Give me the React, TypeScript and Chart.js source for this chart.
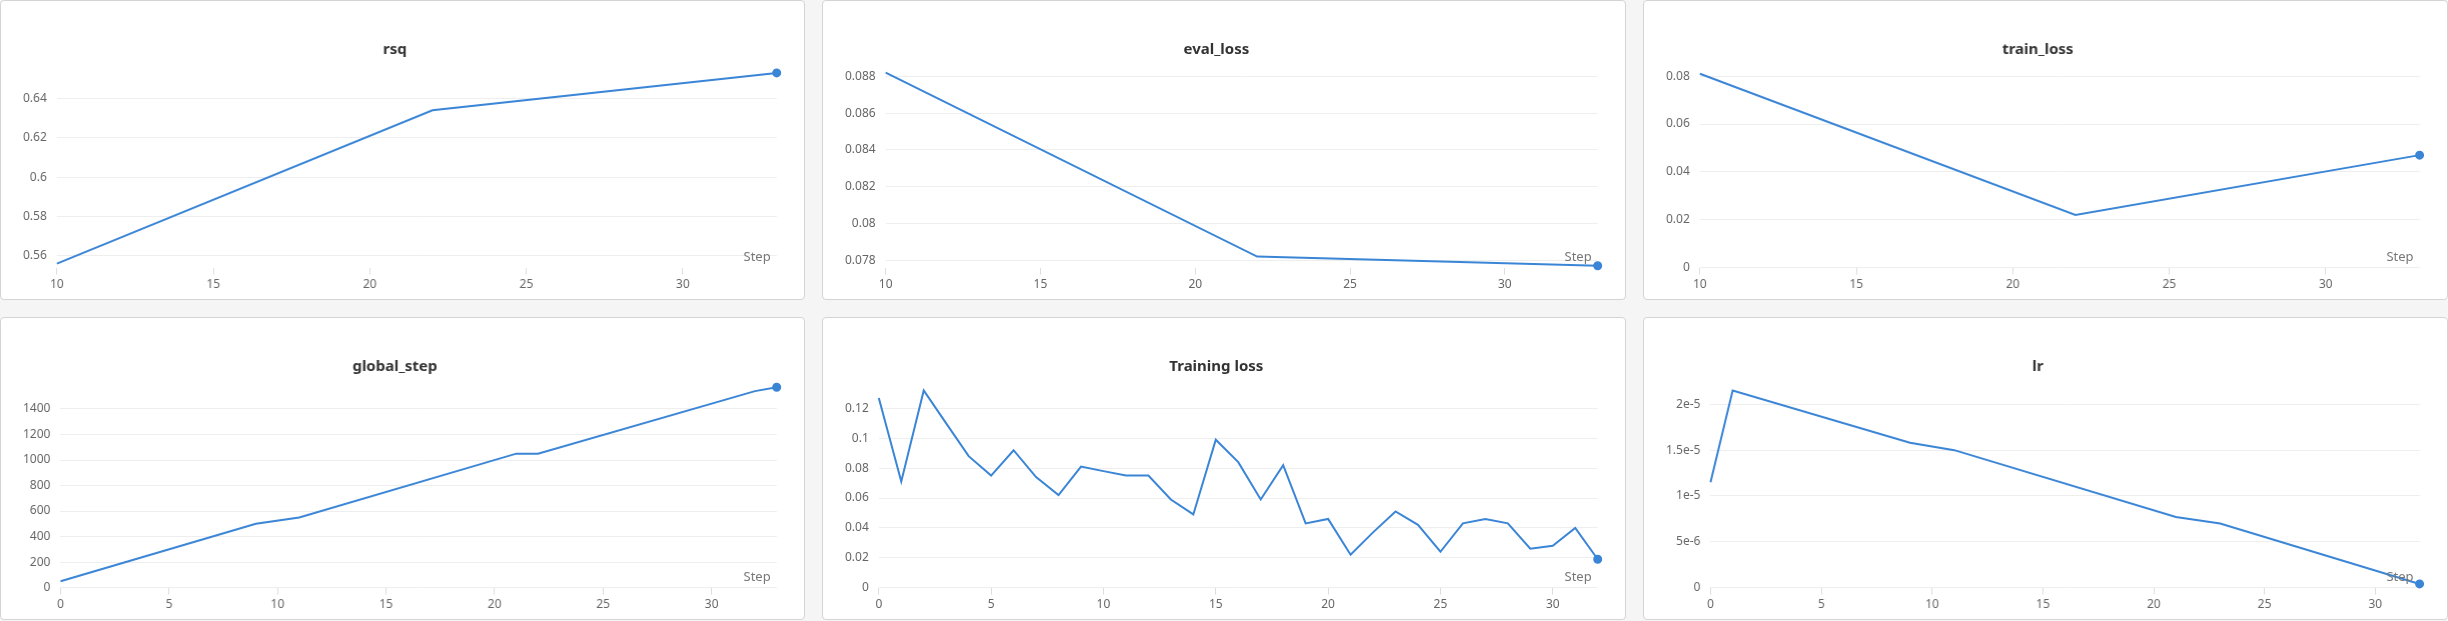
import React, { useEffect, useRef } from "react";
import Chart from "chart.js/auto";

const rsqSteps = [10, 22, 33];
const rsqValues = [0.556, 0.634, 0.653];
const evalSteps = [10, 22, 33];
const evalValues = [0.0882, 0.0782, 0.0777];
const trainSteps = [10, 22, 33];
const trainValues = [0.081, 0.022, 0.047];
const gsSteps = [0, 9, 11, 21, 22, 32, 33];
const gsValues = [50, 500, 550, 1050, 1050, 1540, 1570];
const tlSteps = Array.from({ length: 33 }, (_, i) => i);
const tlValues = [0.127, 0.071, 0.132, 0.11, 0.088, 0.075, 0.092, 0.074, 0.062, 0.081, 0.078, 0.075, 0.075, 0.059, 0.049, 0.099, 0.084, 0.059, 0.082, 0.043, 0.046, 0.022, 0.037, 0.051, 0.042, 0.024, 0.043, 0.046, 0.043, 0.026, 0.028, 0.04, 0.019];
const lrSteps = [0, 1, 9, 11, 21, 23, 32];
const lrValues = [1.15e-5, 2.15e-5, 1.58e-5, 1.5e-5, 7.7e-6, 7e-6, 4e-7];
const lrTickLabels: Record<string, string> = { "0": "0", "5e-6": "5e-6", "0.00001": "1e-5", "0.000015": "1.5e-5", "0.00002": "2e-5" };

type PanelDef = {
  title: string; xs: number[]; ys: number[];
  xMin: number; xMax: number; yMin: number; yMax: number; yStep: number;
  fmt?: (v: number) => string;
};

const panels: PanelDef[] = [
  { title: "rsq", xs: rsqSteps, ys: rsqValues, xMin: 10, xMax: 33, yMin: 0.554, yMax: 0.655, yStep: 0.02 },
  { title: "eval_loss", xs: evalSteps, ys: evalValues, xMin: 10, xMax: 33, yMin: 0.0776, yMax: 0.0884, yStep: 0.002 },
  { title: "train_loss", xs: trainSteps, ys: trainValues, xMin: 10, xMax: 33, yMin: 0, yMax: 0.083, yStep: 0.02 },
  { title: "global_step", xs: gsSteps, ys: gsValues, xMin: 0, xMax: 33, yMin: 0, yMax: 1580, yStep: 200 },
  { title: "Training loss", xs: tlSteps, ys: tlValues, xMin: 0, xMax: 32, yMin: 0, yMax: 0.135, yStep: 0.02 },
  { title: "lr", xs: lrSteps, ys: lrValues, xMin: 0, xMax: 32, yMin: 0, yMax: 2.2e-5, yStep: 5e-6,
    fmt: (v) => { const k = Object.keys(lrTickLabels).find((s) => Math.abs(Number(s) - v) < 1e-9); return k ? lrTickLabels[k] : ""; } },
];

const stepLabel = {
  id: "stepLabel",
  afterDraw(chart: any) {
    const { ctx, chartArea } = chart;
    ctx.save();
    ctx.font = "13px 'Noto Sans', sans-serif";
    ctx.fillStyle = "#777";
    ctx.textAlign = "right";
    ctx.textBaseline = "bottom";
    ctx.fillText("Step", chartArea.right - 6, chartArea.bottom - 4);
    ctx.restore();
  },
};

function Panel({ p }: { p: PanelDef }) {
  const ref = useRef<HTMLCanvasElement | null>(null);
  useEffect(() => {
    if (!ref.current) return;
    const n = p.xs.length;
    const chart = new Chart(ref.current, {
      type: "line",
      data: {
        datasets: [{
          data: p.xs.map((x, i) => ({ x, y: p.ys[i] })),
          borderColor: "#3a85d6",
          backgroundColor: "#3a85d6",
          borderWidth: 2,
          pointRadius: p.xs.map((_, i) => (i === n - 1 ? 3.5 : 0)),
          tension: 0,
          clip: false,
        }],
      },
      options: {
        animation: false,
        responsive: true,
        maintainAspectRatio: false,
        layout: { padding: { left: 12, right: 28, top: 30, bottom: 4 } },
        plugins: {
          legend: { display: false },
          tooltip: { enabled: false },
          title: {
            display: true, text: p.title, color: "#333",
            font: { family: "'Noto Sans', sans-serif", size: 15, weight: "bold" },
            padding: { top: 10, bottom: 10 },
          },
        },
        scales: {
          x: {
            type: "linear", min: p.xMin, max: p.xMax,
            border: { display: false },
            grid: { drawOnChartArea: false, drawTicks: true, tickLength: 7, color: "#ddd" },
            ticks: {
              stepSize: 5, color: "#666", font: { family: "'Noto Sans', sans-serif", size: 12 },
              callback: (v: any) => (Number(v) % 5 === 0 ? String(v) : ""),
            },
            afterBuildTicks: (ax: any) => { ax.ticks = ax.ticks.filter((t: any) => t.value % 5 === 0); },
          },
          y: {
            min: p.yMin, max: p.yMax,
            border: { display: false },
            grid: { color: "#eee", drawTicks: false },
            afterBuildTicks: (ax: any) => {
              const t: any[] = [];
              const start = Math.ceil((p.yMin - 1e-12) / p.yStep) * p.yStep;
              for (let v = start; v <= p.yMax + 1e-12; v += p.yStep) t.push({ value: Number(v.toPrecision(10)) });
              ax.ticks = t;
            },
            ticks: {
              padding: 10, color: "#666", font: { family: "'Noto Sans', sans-serif", size: 12 },
              callback: (v: any) => (p.fmt ? p.fmt(Number(v)) : String(Number(Number(v).toPrecision(6)))),
            },
          },
        },
      } as any,
      plugins: [stepLabel],
    });
    return () => chart.destroy();
  }, [p]);
  return (
    <div style={{ background: "#fff", border: "1px solid #d4d4d4", borderRadius: 4, position: "relative", boxSizing: "border-box" }}>
      <canvas ref={ref} />
    </div>
  );
}

export default function App() {
  useEffect(() => { document.body.style.margin = "0"; }, []);
  return (
    <div style={{ width: 2448, height: 621, background: "#f5f5f5", display: "grid", gridTemplateColumns: "1fr 1fr 1fr", gridTemplateRows: "300px 303px", columnGap: 17, rowGap: 17, boxSizing: "border-box" }}>
      {panels.map((p) => <Panel key={p.title} p={p} />)}
    </div>
  );
}
